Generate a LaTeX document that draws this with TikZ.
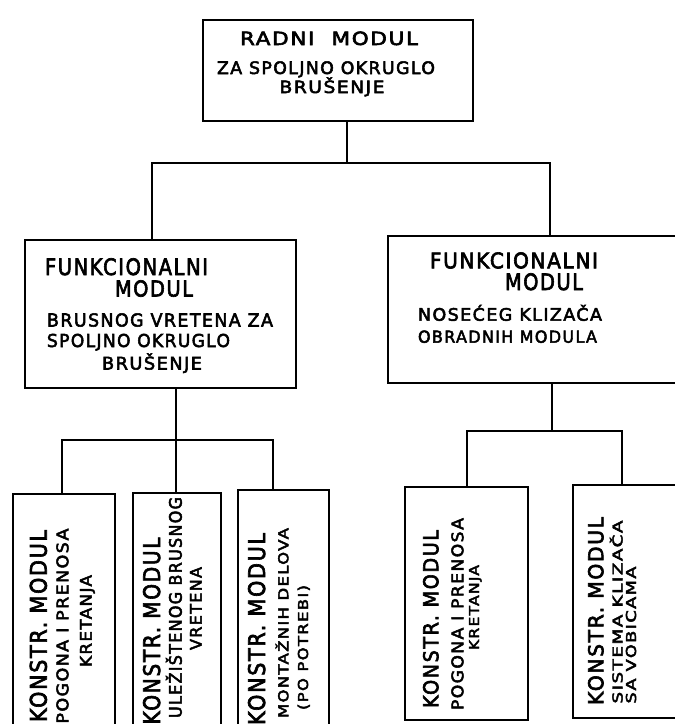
\documentclass[tikz,border=0pt]{standalone}
\usepackage{fontspec}
\setmainfont{DejaVu Sans}
\usetikzlibrary{calc}
\newsavebox\lbox
\newlength\lwd
% #1 cap height, #2 target width, #3 text
\newcommand\fitt[3]{%
  \pgfmathsetmacro\fsz{#1/0.729}%
  \sbox\lbox{\fontsize{\fsz pt}{\fsz pt}\selectfont\addfontfeature{LetterSpace=8,FakeBold=3}#3}%
  \setlength\lwd{\wd\lbox}%
  \pgfmathsetmacro\sxf{#2/\lwd}%
  \scalebox{\sxf}[1]{\usebox\lbox}}
\tikzset{
  box/.style={draw, line width=1.6pt, inner sep=0pt, outer sep=0pt},
  conn/.style={line width=1.6pt},
  hl/.style={anchor=base, inner sep=0pt, outer sep=0pt},
  vl/.style={anchor=base, rotate=90, inner sep=0pt, outer sep=0pt},
}
\begin{document}
\begin{tikzpicture}[x=1pt,y=-1pt]
\useasboundingbox (0,0) rectangle (675,724);
\clip (0,0) rectangle (675,724);
\fill[white] (0,0) rectangle (675,724);

% boxes
\node[box, minimum width=270pt, minimum height=101pt] (top) at (338,70.5) {};
\node[box, minimum width=271pt, minimum height=148pt] (lf) at (160.5,314) {};
\node[box, minimum width=312pt, minimum height=147pt] (rf) at (544,309.5) {};
\node[box, minimum width=102pt, minimum height=266pt] (k1) at (64,627) {};
\node[box, minimum width=88pt, minimum height=267pt] (k2) at (177,626.5) {};
\node[box, minimum width=91pt, minimum height=270pt] (k3) at (283.5,625) {};
\node[box, minimum width=123pt, minimum height=233pt] (k4) at (466.5,603.5) {};
\node[box, minimum width=127pt, minimum height=233pt] (k5) at (636.5,601.5) {};

% connectors
\coordinate (h1) at (347,163);
\coordinate (h1l) at (152,163);
\coordinate (h1r) at (550,163);
\draw[conn] (top.south -| h1) -- (h1);
\draw[conn] (lf.north -| h1l) -- (h1l) -- (h1r) -- (rf.north -| h1r);

\coordinate (h2) at (176,440);
\coordinate (h2l) at (62,440);
\coordinate (h2r) at (273,440);
\draw[conn] (lf.south -| h2) -- (h2) -- (k2.north -| h2);
\draw[conn] (k1.north -| h2l) -- (h2l) -- (h2r) -- (k3.north -| h2r);

\coordinate (h3) at (552,431);
\coordinate (h3l) at (467,431);
\coordinate (h3r) at (622,431);
\draw[conn] (rf.south -| h3) -- (h3);
\draw[conn] (k4.north -| h3l) -- (h3l) -- (h3r) -- (k5.north -| h3r);

% horizontal texts
\node[hl] (t1) at (329,45) {\fitt{13.3}{178}{RADNI\ \ MODUL}};
\node[hl] (t2) at (326,74) {\fitt{12.5}{218}{ZA SPOLJNO OKRUGLO}};
\node[hl] (t3) at (332,93) {\fitt{12.3}{105}{BRUŠENJE}};

\node[hl] (f1) at (126.5,275) {\fitt{16.5}{163}{FUNKCIONALNI}};
\node[hl] (f2) at (154,296.5) {\fitt{16}{78}{MODUL}};
\node[hl] (f3) at (160,326.5) {\fitt{13}{226}{BRUSNOG VRETENA ZA}};
\node[hl] (f4) at (138.5,347) {\fitt{13}{183}{SPOLJNO OKRUGLO}};
\node[hl] (f5) at (152,369.5) {\fitt{12.7}{100}{BRUŠENJE}};

\node[hl] (g1) at (514,268.3) {\fitt{15.7}{168}{FUNKCIONALNI}};
\node[hl] (g2) at (544,290) {\fitt{16.5}{78}{MODUL}};
\node[hl] (g3) at (510,320.7) {\fitt{12.5}{184}{NOSEĆEG KLIZAČA}};
\node[hl] (g4) at (507.5,342.7) {\fitt{12}{179}{OBRADNIH MODULA}};

% vertical texts
\node[vl] (a1) at (46.7,626) {\fitt{16.7}{192}{KONSTR. MODUL}};
\node[vl] (a2) at (68.3,626) {\fitt{11.7}{195}{POGONA I PRENOSA}};
\node[vl] (a3) at (91.7,621) {\fitt{11.7}{92}{KRETANJA}};

\node[vl] (b1) at (160,631) {\fitt{16.7}{187}{KONSTR. MODUL}};
\node[vl] (b2) at (181.7,607.5) {\fitt{12.5}{221}{ULEŽIŠTENOG BRUSNOG}};
\node[vl] (b3) at (201.7,608.5) {\fitt{11.7}{83}{VRETENA}};

\node[vl] (c1) at (265,629) {\fitt{16.7}{192}{KONSTR. MODUL}};
\node[vl] (c2) at (288.3,623) {\fitt{10}{190}{MONTAŽNIH DELOVA}};
\node[vl] (c3) at (308,647.5) {\fitt{10}{125}{(PO POTREBI)}};

\node[vl] (d1) at (438.3,619) {\fitt{15}{178}{KONSTR. MODUL}};
\node[vl] (d2) at (463.3,614) {\fitt{11.7}{192}{POGONA I PRENOSA}};
\node[vl] (d3) at (479,607.5) {\fitt{10}{85}{KRETANJA}};

\node[vl] (e1) at (603.3,611) {\fitt{15}{188}{KONSTR. MODUL}};
\node[vl] (e2) at (622.5,612) {\fitt{10}{183}{SISTEMA KLIZAČA}};
\node[vl] (e3) at (636,635) {\fitt{10}{137}{SA VOBICAMA}};
\end{tikzpicture}
\end{document}
